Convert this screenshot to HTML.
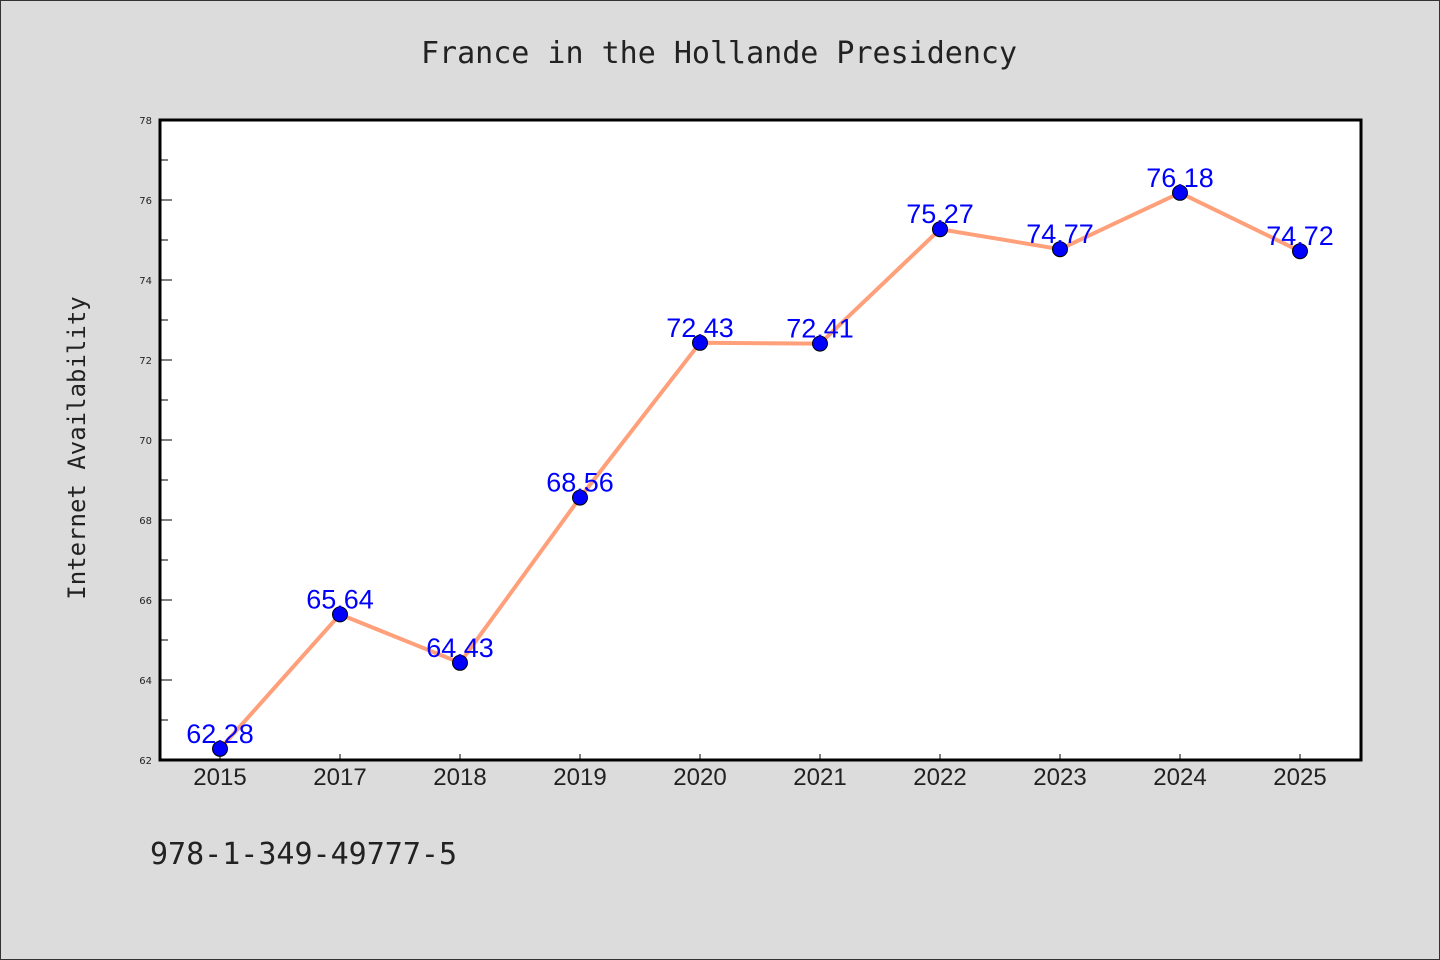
<!DOCTYPE html>
<html><head><meta charset="utf-8"><style>
html,body{margin:0;padding:0;background:#dcdcdc;}
svg{display:block;}
</style></head><body>
<svg width="1440" height="960" xmlns="http://www.w3.org/2000/svg">
<rect x="0.5" y="0.5" width="1439" height="959" fill="#dcdcdc" stroke="#333"/>
<text x="719" y="63" text-anchor="middle" font-family="DejaVu Sans Mono, monospace" font-size="30" fill="#222">France in the Hollande Presidency</text>
<rect x="160" y="120" width="1201" height="640" fill="#fff"/>
<g id="axes"></g>
<g id="marks"></g>
<rect x="160" y="120" width="1201" height="640" fill="none" stroke="#000" stroke-width="3"/>
<text transform="translate(85,448) rotate(-90)" text-anchor="middle" font-family="DejaVu Sans Mono, monospace" font-size="24" fill="#222">Internet Availability</text>
<text x="150" y="864" font-family="DejaVu Sans Mono, monospace" font-size="30" fill="#222">978-1-349-49777-5</text>
</svg>
<script>
const categories = ["2015","2017","2018","2019","2020","2021","2022","2023","2024","2025"];
const values = [62.28,65.64,64.43,68.56,72.43,72.41,75.27,74.77,76.18,74.72];
const valueLabels = ["62.28","65.64","64.43","68.56","72.43","72.41","75.27","74.77","76.18","74.72"];
const yTicks = [62,64,66,68,70,72,74,76,78];
const yMinor = [63,65,67,69,71,73,75,77];
const NS="http://www.w3.org/2000/svg";
const yMin=62,yMax=78,plotTop=120,plotBot=760,plotLeft=160,xStep=120,xStart=220;
const yScale=v=>plotBot-(v-yMin)/(yMax-yMin)*(plotBot-plotTop);
const xScale=i=>xStart+i*xStep;
function mk(t,a,p){const e=document.createElementNS(NS,t);for(const k in a)e.setAttribute(k,a[k]);p.appendChild(e);return e;}
const axesG=document.getElementById('axes'),marksG=document.getElementById('marks');
yTicks.forEach(v=>{
 const l=mk('line',{x1:plotLeft,x2:plotLeft+12,y1:yScale(v),y2:yScale(v),stroke:'#000','stroke-width':1},axesG);
 
 
 const t=mk('text',{x:152,y:yScale(v)+4,'text-anchor':'end','font-family':'DejaVu Sans, sans-serif','font-size':10,fill:'#222'},axesG);
 t.textContent=v;
 
 
});
yMinor.forEach(v=>{
 const l=mk('line',{x1:plotLeft,x2:plotLeft+8,y1:yScale(v),y2:yScale(v),stroke:'#000','stroke-width':1},axesG);
 
 
});
categories.forEach((c,i)=>{
 const l=mk('line',{x1:xScale(i),x2:xScale(i),y1:plotBot,y2:plotBot-6,stroke:'#000','stroke-width':1},axesG);
 
 
 const t=mk('text',{x:xScale(i),y:785,'text-anchor':'middle','font-family':'Liberation Sans, DejaVu Sans, sans-serif','font-size':24,fill:'#222'},axesG);
 t.textContent=c;
 
 
});
const pl=mk('polyline',{points:values.map((v,i)=>xScale(i)+','+yScale(v)).join(' '),fill:'none',stroke:'#ffa07a','stroke-width':4,'stroke-linejoin':'round'},marksG);


values.forEach((v,i)=>{
 const c=mk('circle',{cx:xScale(i),cy:yScale(v),r:7.5,fill:'#0000ff',stroke:'#000','stroke-width':1},marksG);
 
 
});
values.forEach((v,i)=>{
 const t=mk('text',{x:xScale(i),y:yScale(v)-6,'text-anchor':'middle','font-family':'Liberation Sans, DejaVu Sans, sans-serif','font-size':27,fill:'#0000ff'},marksG);
 t.textContent=valueLabels[i];
 
 
});
</script>
</body></html>
